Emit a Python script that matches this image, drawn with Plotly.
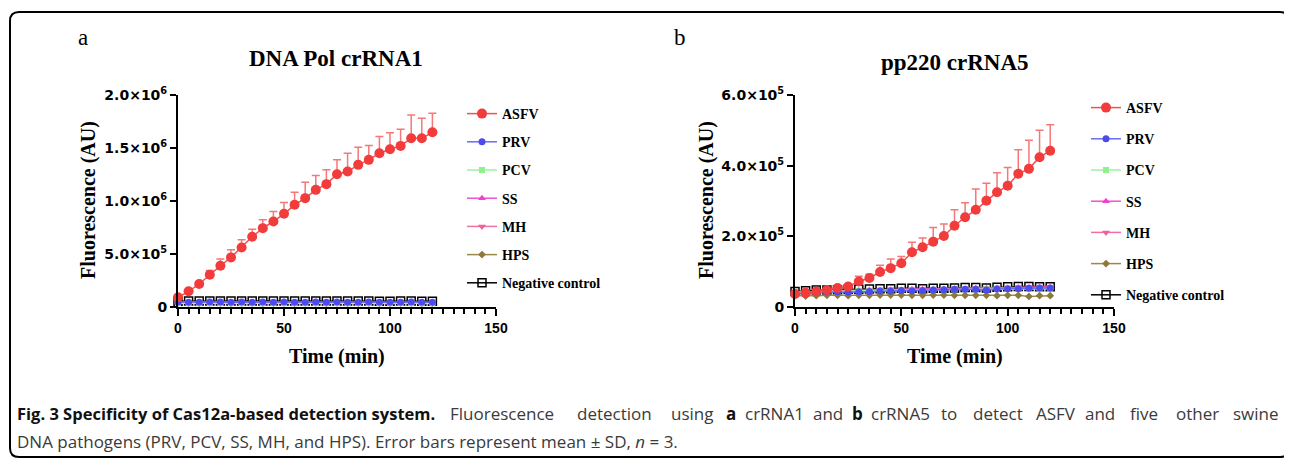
import plotly.graph_objects as go

W, H = 1292, 459
OFF = 8  # page body margin in the browser

time_min = [0, 5, 10, 15, 20, 25, 30, 35, 40, 45, 50, 55, 60, 65, 70, 75, 80, 85, 90, 95, 100, 105, 110, 115, 120]

series_names = ["ASFV", "PRV", "PCV", "SS", "MH", "HPS", "Negative control"]

# Panel a: DNA Pol crRNA1 (values in thousands of AU)
a_asfv = [91, 148, 217, 305, 389, 468, 562, 662, 744, 807, 879, 964, 1027, 1105, 1159, 1253, 1278, 1341, 1388, 1451, 1488, 1520, 1592, 1592, 1648]
a_asfv_sd = [5, 10, 15, 40, 63, 72, 72, 72, 78, 94, 107, 119, 151, 135, 135, 135, 173, 166, 135, 157, 157, 157, 220, 188, 179]
a_prv = [46, 45, 45, 46, 46, 45, 46, 45, 46, 45, 46, 45, 45, 46, 45, 46, 45, 45, 46, 44, 44, 45, 46, 45, 45]
a_pcv = [36, 36, 35, 36, 36, 35, 36, 36, 35, 36, 36, 35, 36, 36, 35, 36, 35, 36, 36, 35, 35, 36, 36, 35, 35]
a_ss = [42, 42, 41, 42, 42, 41, 42, 42, 41, 42, 42, 41, 42, 42, 41, 42, 41, 42, 42, 41, 41, 42, 42, 41, 41]
a_mh = [44, 44, 43, 44, 44, 43, 44, 44, 43, 44, 44, 43, 44, 44, 43, 44, 43, 44, 44, 43, 43, 44, 44, 43, 43]
a_hps = [38, 38, 37, 38, 38, 37, 38, 38, 37, 38, 38, 37, 38, 38, 37, 38, 37, 38, 38, 37, 37, 38, 38, 37, 37]
a_nc = [55, 56, 57, 57, 57, 57, 57, 57, 57, 56, 56, 56, 57, 57, 57, 57, 56, 56, 56, 55, 55, 56, 56, 55, 55]

# Panel b: pp220 crRNA5 (values in thousands of AU)
b_asfv = [37, 40, 44, 48, 54, 58, 72, 82, 99, 110, 124, 155, 169, 185, 201, 230, 254, 275, 301, 325, 343, 377, 391, 424, 442]
b_asfv_sd = [2, 2, 3, 3, 3, 5, 15, 11, 19, 26, 19, 28, 26, 40, 34, 45, 41, 59, 49, 55, 52, 68, 81, 76, 74]
b_prv = [37, 39, 41, 43, 43, 42, 43, 44, 45, 45, 47, 46, 47, 48, 49, 50, 50, 50, 48, 51, 52, 52, 53, 54, 54]
b_pcv = [42, 43, 44, 45, 45, 45, 46, 46, 47, 47, 48, 48, 48, 49, 49, 50, 50, 50, 50, 51, 51, 52, 52, 52, 52]
b_ss = [40, 42, 44, 45, 46, 46, 47, 48, 48, 49, 49, 50, 50, 51, 51, 52, 52, 53, 53, 54, 54, 55, 55, 56, 56]
b_mh = [41, 43, 45, 46, 47, 47, 48, 49, 49, 50, 50, 51, 51, 52, 52, 53, 53, 54, 54, 55, 55, 56, 56, 56, 57]
b_hps = [32, 31, 32, 33, 33, 32, 33, 33, 34, 34, 34, 33, 33, 34, 34, 33, 33, 33, 33, 32, 33, 33, 30, 32, 32]
b_nc = [44, 46, 48, 48, 49, 50, 50, 51, 52, 52, 53, 53, 52, 53, 53, 54, 55, 55, 54, 56, 57, 58, 58, 57, 57]

a_yticks = [0, 5e5, 1e6, 1.5e6, 2e6]
a_yticktext = ["0", "5.0×10<sup>5</sup>", "1.0×10<sup>6</sup>", "1.5×10<sup>6</sup>", "2.0×10<sup>6</sup>"]
b_yticks = [0, 2e5, 4e5, 6e5]
b_yticktext = ["0", "2.0×10<sup>5</sup>", "4.0×10<sup>5</sup>", "6.0×10<sup>5</sup>"]
x_ticks = [0, 50, 100, 150]

# caption: '**' marks bold words
caption_bold = "Fig. 3 Specificity of Cas12a-based detection system."
caption_rest1 = "Fluorescence detection using **a crRNA1 and **b crRNA5 to detect ASFV and five other swine"
caption_line2 = "DNA pathogens (PRV, PCV, SS, MH, and HPS). Error bars represent mean ± SD, <i>n</i> = 3."

SERIF = "Liberation Serif"
SANS = "Liberation Sans"
CAP = "Open Sans"

styles = {
    "ASFV": dict(color="#f23b3b", line="#f25050", symbol="circle", size=10, lw=1.5),
    "PRV": dict(color="#4b4bf0", line="#6a6af5", symbol="circle", size=7, lw=1.5),
    "PCV": dict(color="#8ef08e", line="#9ff09f", symbol="square", size=6, lw=1.5),
    "SS": dict(color="#f040d0", line="#f050d8", symbol="triangle-up", size=7, lw=1.5),
    "MH": dict(color="#f0609a", line="#f070a4", symbol="triangle-down", size=7, lw=1.5),
    "HPS": dict(color="#8b7a3a", line="#9a8a4a", symbol="diamond", size=6, lw=1.5),
    "Negative control": dict(color="black", line="black", symbol="square-open", size=8, lw=1.5),
}

fig = go.Figure()


def k(vals):
    return [v * 1000 for v in vals]


def add_panel(prefix, data, sd, xa, ya, legend):
    # draw in reverse so ASFV sits on top
    for name in reversed(series_names):
        st = styles[name]
        kw = {}
        if name == "ASFV":
            kw["error_y"] = dict(type="data", array=k(sd), arrayminus=[0] * len(sd), symmetric=False,
                                 color="#f47878", thickness=1.5, width=4)
        fig.add_trace(go.Scatter(
            x=time_min, y=k(data[name]), name=name, mode="lines+markers",
            xaxis=xa, yaxis=ya, legend=legend, legendgroup=prefix + name,
            legendrank=series_names.index(name) + 1,
            line=dict(color=st["line"], width=st["lw"]),
            marker=dict(color=st["color"], symbol=st["symbol"], size=st["size"],
                        line=dict(width=1.5 if name == "Negative control" else 0, color=st["color"])),
            cliponaxis=False, **kw))


add_panel("a_", {"ASFV": a_asfv, "PRV": a_prv, "PCV": a_pcv, "SS": a_ss, "MH": a_mh, "HPS": a_hps,
                 "Negative control": a_nc}, a_asfv_sd, "x", "y", "legend")
add_panel("b_", {"ASFV": b_asfv, "PRV": b_prv, "PCV": b_pcv, "SS": b_ss, "MH": b_mh, "HPS": b_hps,
                 "Negative control": b_nc}, b_asfv_sd, "x2", "y2", "legend2")


def px_x(p):
    return (p - OFF) / W


def px_y(p):
    return 1 - (p - OFF) / H


y_dom = [px_y(307), px_y(95)]

xaxis_common = dict(range=[0, 150], tickvals=x_ticks, ticks="outside", ticklen=7, tickwidth=2,
                    tickcolor="black", showline=True, linewidth=2, linecolor="black",
                    showgrid=False, zeroline=False, automargin=False,
                    tickfont=dict(family=SANS, size=14, color="black", weight="bold"),
                    minor=dict(dtick=5, tick0=0, ticks="outside", ticklen=5, tickwidth=1.5, tickcolor="black",
                               showgrid=False))
yaxis_common = dict(ticks="outside", ticklen=6, tickwidth=2, tickcolor="black", showline=True,
                    linewidth=2, linecolor="black", showgrid=False, zeroline=False, domain=y_dom,
                    automargin=False,
                    tickfont=dict(family="DejaVu Sans", size=14, color="black", weight="bold"))

legend_common = dict(xanchor="left", yanchor="top", bgcolor="rgba(0,0,0,0)",
                     font=dict(family=SERIF, size=14, color="black", weight="bold"),
                     traceorder="grouped", itemwidth=30)

fig.update_layout(
    width=W, height=H, margin=dict(l=0, r=0, t=0, b=0, pad=0, autoexpand=False),
    paper_bgcolor="white", plot_bgcolor="white",
    xaxis=dict(domain=[px_x(178), px_x(496)], anchor="y", **xaxis_common),
    yaxis=dict(anchor="x", range=[0, 2e6], tickvals=a_yticks, ticktext=a_yticktext, **yaxis_common),
    xaxis2=dict(domain=[px_x(795), px_x(1114)], anchor="y2", **xaxis_common),
    yaxis2=dict(anchor="x2", range=[0, 6e5], tickvals=b_yticks, ticktext=b_yticktext, **yaxis_common),
    legend=dict(x=px_x(462), y=px_y(98), tracegroupgap=7, **legend_common),
    legend2=dict(x=px_x(1086), y=px_y(92), tracegroupgap=10, **legend_common),
    showlegend=True,
)

ann = []


def text(x, y, t, size, family=SERIF, bold=True, angle=0, xanchor="center", color="black"):
    ann.append(dict(x=px_x(x), y=px_y(y), xref="paper", yref="paper", text=t, showarrow=False,
                    xanchor=xanchor, yanchor="middle", textangle=angle,
                    font=dict(family=family, size=size, color=color, weight="bold" if bold else "normal")))


text(83, 38, "a", 23, bold=False)
text(680, 38, "b", 23, bold=False)
text(336, 58, "DNA Pol crRNA1", 23)
text(955, 63, "pp220 crRNA5", 23)
text(88, 200, "Fluorescence (AU)", 20, angle=-90)
text(706, 200, "Fluorescence (AU)", 20, angle=-90)
text(337, 356, "Time (min)", 20)
text(955, 356, "Time (min)", 20)

CAP_SIZE = 17


def justify(words_str, x0, x1, y, color, size=CAP_SIZE):
    """Justified caption line: words placed across [x0, x1] in proportion to their characters."""
    words = words_str.split(" ")
    plain = [w.replace("**", "") for w in words]
    total = len(" ".join(plain))
    off = 0
    for w, p in zip(words, plain):
        cx = x0 + (off + len(p) / 2) / total * (x1 - x0)
        is_bold = w.startswith("**")
        text(cx, y, p, size, family=CAP, bold=is_bold, color="#111111" if is_bold else color)
        off += len(p) + 1


text(15, 413, caption_bold, 16.5, family=CAP, bold=True, xanchor="left", color="#111111")
justify(caption_rest1, 444, 1280, 413, "#3a3a3a")
text(15, 441, caption_line2, CAP_SIZE, family=CAP, bold=False, xanchor="left", color="#3a3a3a")

fig.update_layout(annotations=ann)

# rounded frame
x0, x1, y0, y1 = 10, 1289, 12, 457
r = 9
pth = (f"M {px_x(x0)},{px_y(y0 + r)} Q {px_x(x0)},{px_y(y0)} {px_x(x0 + r)},{px_y(y0)} "
       f"L {px_x(x1 - r)},{px_y(y0)} Q {px_x(x1)},{px_y(y0)} {px_x(x1)},{px_y(y0 + r)} "
       f"L {px_x(x1)},{px_y(y1 - r)} Q {px_x(x1)},{px_y(y1)} {px_x(x1 - r)},{px_y(y1)} "
       f"L {px_x(x0 + r)},{px_y(y1)} Q {px_x(x0)},{px_y(y1)} {px_x(x0)},{px_y(y1 - r)} Z")
fig.add_shape(type="path", path=pth, xref="paper", yref="paper", line=dict(color="black", width=2))

fig.write_html("out.html")
